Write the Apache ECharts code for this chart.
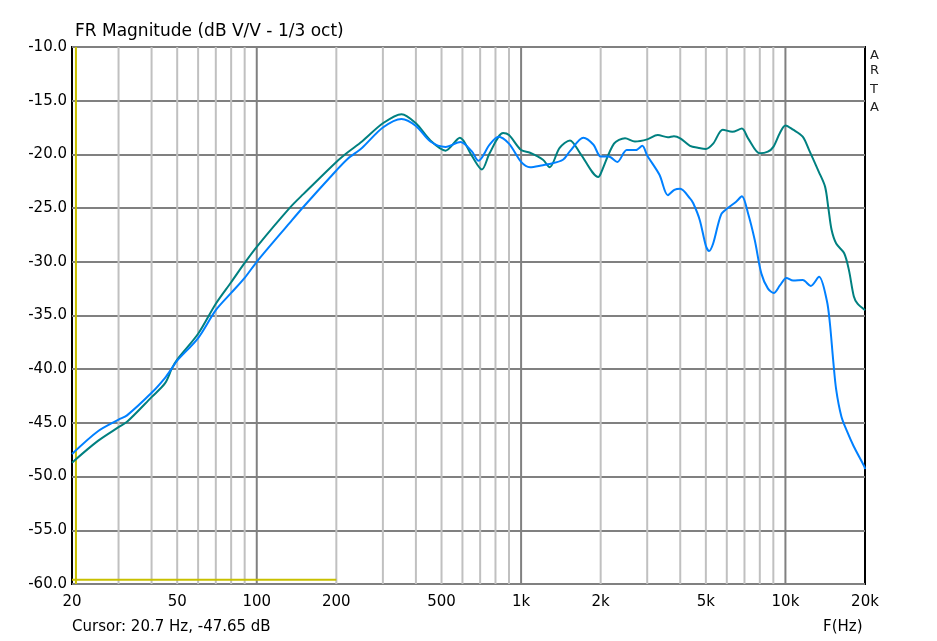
<!DOCTYPE html>
<html><head><meta charset="utf-8">
<script src="https://cdn.jsdelivr.net/npm/echarts@6/dist/echarts.min.js"></script>
<style>html,body{margin:0;padding:0;background:#fff}#c{width:937px;height:641px}</style>
</head><body><div id="c"></div>
<script>
// ---- data ----
const blueFreq = [20,25,30,32.3,40,45,47.8,50,60,70,80,90,100,133,150,200,221,250,300,353,400,454,518,590,650,690,760,821,900,1000,1081,1210,1282,1440,1531,1721,1879,2000,2145,2312,2510,2711,2874,3000,3338,3590,3800,4000,4354,4480,4740,5000,5140,5328,5710,6050,6510,6844,7223,7658,8110,8590,9040,9530,10090,10694,11624,12470,13400,14340,14726,15150,15560,16280,17110,18140,19920,20000];
const blueDb   = [-47.9,-45.8,-44.7,-44.3,-42.2,-40.8,-39.9,-39.2,-37.1,-34.5,-32.9,-31.5,-30.0,-26.4,-24.9,-21.5,-20.4,-19.4,-17.5,-16.7,-17.35,-18.8,-19.3,-18.85,-19.7,-20.6,-19.1,-18.35,-19.0,-20.7,-21.2,-21.0,-20.9,-20.5,-19.7,-18.45,-19.1,-20.2,-20.2,-20.7,-19.6,-19.6,-19.2,-20.1,-21.9,-23.8,-23.3,-23.2,-24.1,-24.55,-26.1,-28.5,-29.0,-28.3,-25.6,-25.0,-24.4,-23.9,-25.5,-28.0,-31.1,-32.5,-32.9,-32.2,-31.5,-31.75,-31.7,-32.25,-31.4,-33.6,-35.7,-39.1,-41.9,-44.4,-45.8,-47.2,-49.1,-49.3];
const tealFreq = [20,25,30,32.3,40,45,47.8,50,60,70,80,90,100,133,150,200,221,250,300,353,400,454,518,587,650,711,760,855,900,1000,1081,1210,1282,1399,1531,1673,1960,2000,2246,2473,2695,3000,3288,3590,3787,4000,4354,4700,5000,5328,5792,6296,6844,7223,8000,8584,9000,9530,10000,10694,11624,12292,13363,14122,14520,14940,15560,16683,17395,18138,18740,20000];
const tealDb   = [-48.7,-46.7,-45.4,-44.9,-42.6,-41.3,-39.9,-39.1,-36.7,-33.9,-31.9,-30.1,-28.6,-25.0,-23.7,-20.7,-19.8,-18.8,-17.1,-16.25,-17.1,-18.7,-19.65,-18.45,-20.1,-21.4,-19.9,-18.0,-18.2,-19.6,-19.85,-20.5,-21.2,-19.4,-18.7,-19.9,-22.1,-21.8,-19.0,-18.5,-18.8,-18.6,-18.2,-18.4,-18.3,-18.5,-19.2,-19.4,-19.5,-19.0,-17.7,-17.9,-17.6,-18.5,-19.9,-19.75,-19.3,-18.0,-17.3,-17.7,-18.35,-19.6,-21.6,-23.0,-24.9,-27.0,-28.3,-29.2,-30.8,-33.2,-33.9,-34.5];
const xTickFreqs  = [20,50,100,200,500,1000,2000,5000,10000,20000];
const xTickLabels = ['20','50','100','200','500','1k','2k','5k','10k','20k'];
const minorGridFreqs = [30,40,50,60,70,80,90,200,300,400,500,600,700,800,900,2000,3000,4000,5000,6000,7000,8000,9000];
const majorGridFreqs = [100,1000,10000];
const cursorFreq = 20.7;
const markerFreq = [20,200];
const markerDb = [-59.6,-59.6];
const yMin = -60, yMax = -10, yStep = 5;

// ---- build ----
const L = Math.log10;
const toPts = (f, d) => f.map((v, i) => [L(v), d[i]]);
const FONT = 'DejaVu Sans';

function gridSeries(freqs, color) {
  return freqs.map(f => ({
    type: 'line', data: [[L(f), yMin], [L(f), yMax]], symbol: 'none', silent: true,
    lineStyle: {color: color, width: 2}, z: 1, animation: false
  }));
}

const series = [].concat(
  gridSeries(minorGridFreqs, '#c0c0c0'),
  gridSeries(majorGridFreqs, '#808080'),
  gridSeries([cursorFreq], '#c8c000'),
  [{type: 'line', data: toPts(markerFreq, markerDb), symbol: 'none', silent: true,
    lineStyle: {color: '#c8c000', width: 2}, z: 2, animation: false},
   {type: 'line', data: toPts(tealFreq, tealDb), symbol: 'none', smooth: 0.3,
    lineStyle: {color: '#008080', width: 2}, z: 3, animation: false},
   {type: 'line', data: toPts(blueFreq, blueDb), symbol: 'none', smooth: 0.3,
    lineStyle: {color: '#0080ff', width: 2}, z: 4, animation: false}]
);

const chart = echarts.init(document.getElementById('c'), null, {renderer: 'canvas'});
chart.setOption({
  backgroundColor: '#fff',
  animation: false,
  grid: {left: 72, top: 47, width: 793, height: 537, show: true, borderColor: '#000', borderWidth: 2, backgroundColor: 'transparent'},
  xAxis: {
    type: 'value', min: L(20), max: L(20000),
    axisLine: {show: false}, axisTick: {show: false}, splitLine: {show: false},
    axisLabel: {
      customValues: xTickFreqs.map(L), showMinLabel: true, showMaxLabel: true,
      margin: 11, color: '#000', fontFamily: FONT, fontSize: 15,
      formatter: v => { const i = xTickFreqs.findIndex(f => Math.abs(L(f) - v) < 1e-6); return i >= 0 ? xTickLabels[i] : ''; }
    }
  },
  yAxis: {
    type: 'value', min: yMin, max: yMax, interval: yStep,
    axisLine: {show: false}, axisTick: {show: false},
    splitLine: {show: true, lineStyle: {color: '#808080', width: 2}},
    axisLabel: {margin: 5, color: '#000', fontFamily: FONT, fontSize: 15, formatter: v => v.toFixed(1)}
  },
  graphic: [
    {type: 'text', left: 75, top: 23, style: {text: 'FR Magnitude (dB V/V - 1/3 oct)', font: '17px "DejaVu Sans"', fill: '#000'}},
    {type: 'text', left: 72, top: 620, style: {text: 'Cursor: 20.7 Hz, -47.65 dB', font: '15px "DejaVu Sans"', fill: '#000'}},
    {type: 'text', left: 823, top: 620, style: {text: 'F(Hz)', font: '15px "DejaVu Sans"', fill: '#000'}},
    {type: 'text', left: 870, top: 49, style: {text: 'A', font: '13px "DejaVu Sans"', fill: '#222'}},
    {type: 'text', left: 870, top: 64, style: {text: 'R', font: '13px "DejaVu Sans"', fill: '#222'}},
    {type: 'text', left: 870, top: 83, style: {text: 'T', font: '13px "DejaVu Sans"', fill: '#222'}},
    {type: 'text', left: 870, top: 101, style: {text: 'A', font: '13px "DejaVu Sans"', fill: '#222'}}
  ],
  series: series
});
</script></body></html>
